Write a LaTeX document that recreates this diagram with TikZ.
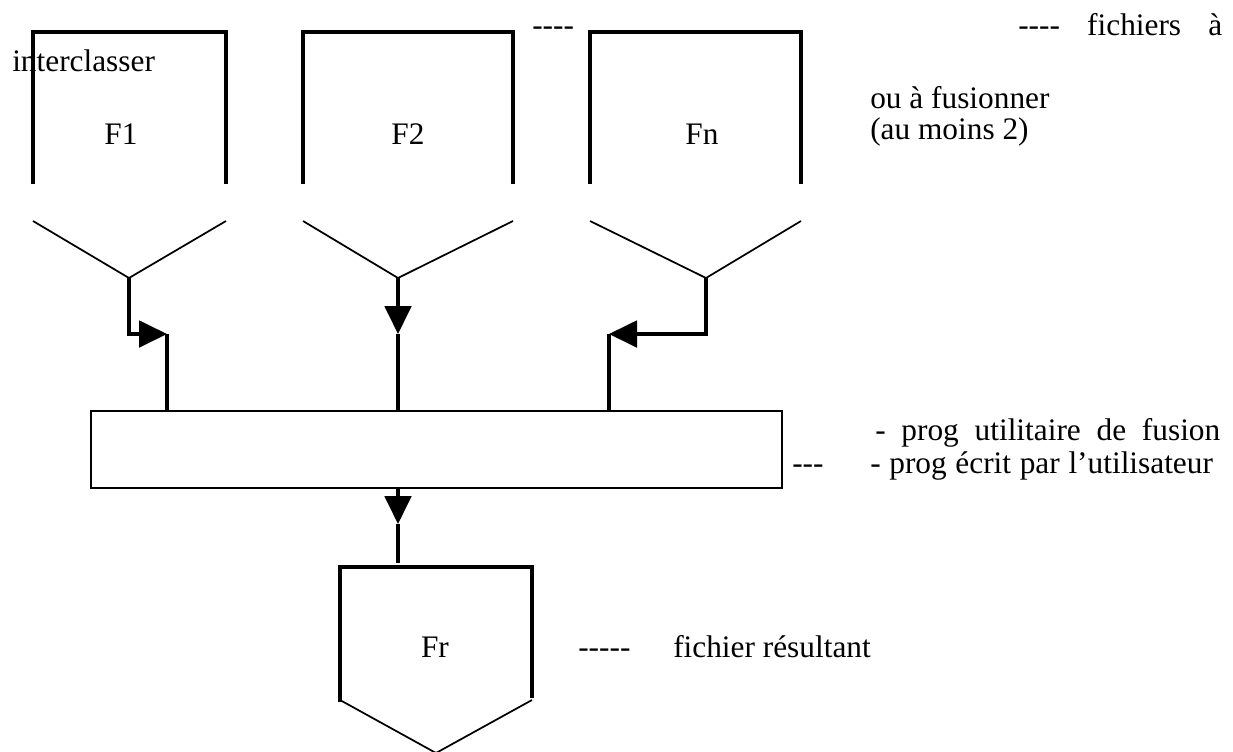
\documentclass[tikz,border=0pt]{standalone}
\usepackage{fontspec}
\setmainfont{Liberation Serif}[Ligatures={TeXOff,CommonOff}]
\usetikzlibrary{arrows.meta}

\begin{document}
\begin{tikzpicture}[x=0.75pt,y=0.75pt,yscale=-1,xscale=1,
  filebox/.style={line width=2.4pt},
  funnel/.style={line width=1.3pt},
  link/.style={line width=2.3pt},
  flowarrow/.style={-{Triangle[length=21pt,width=20pt]}},
  progbox/.style={draw,line width=1.6pt,inner sep=0pt,minimum width=518pt,minimum height=58pt},
  txt/.style={anchor=base west,inner sep=0pt,font=\fontsize{23.5}{28}\selectfont},
  lbl/.style={anchor=base,inner sep=0pt,font=\fontsize{23.5}{28}\selectfont}]
\clip (0,0) rectangle (1233,751);

%Shapes: input files
\draw [filebox] (33,184) |- (226,32) -- (226,184) ;
\draw [filebox] (303,184) |- (513,32) -- (513,184) ;
\draw [filebox] (590,184) |- (801,32) -- (801,184) ;
\draw [funnel] (33,221) -- (129,278) -- (226,221) ;
\draw [funnel] (303,221) -- (398,278) -- (513,221) ;
\draw [funnel] (590,221) -- (706,278) -- (801,221) ;
\node [lbl] (f1) at (121,144) {F1};
\node [lbl] (f2) at (408,144) {F2};
\node [lbl] (fn) at (702,144) {Fn};

%Shape: Rectangle
\node [progbox] (prog) at (436.5,449.5) {};

%Shape: result file
\draw [filebox] (340,702) |- (532,567) -- (532,698) ;
\draw [funnel] (340,700) -- (436,753) -- (532,700) ;
\node [lbl] (fr) at (435,657) {Fr};

%Straight Lines
\coordinate (v1) at (129,278);
\coordinate (t1) at (167,334);
\coordinate (v2) at (398,278);
\coordinate (t2) at (398,334);
\coordinate (v3) at (706,278);
\coordinate (t3) at (609,334);
\coordinate (t4) at (398,524);
\coordinate (r0) at (398,563);
\draw [link,flowarrow] (v1) |- (t1) ;
\draw [link] (t1) -- (t1 |- prog.north) ;
\draw [link,flowarrow] (v2) -- (t2) ;
\draw [link] (t2) -- (t2 |- prog.north) ;
\draw [link,flowarrow] (v3) |- (t3) ;
\draw [link] (t3) -- (t3 |- prog.north) ;
\draw [link,flowarrow] (prog.south -| t4) -- (t4) ;
\draw [link] (t4) -- (r0) ;

% Text Node
\node [txt] (inter) at (12,71) {interclasser};
\node [txt] (dots) at (532,35) {----};
\node [txt] (fich) at (1018,35) {\makebox[153pt][s]{---- fichiers à}};
\node [txt] (fus) at (870,108) {ou à fusionner};
\node [txt] (moins) at (870,139) {(au moins 2)};
\node [txt] (util) at (875,440) {\makebox[258.75pt][s]{- prog utilitaire de fusion}};
\node [txt] (dash) at (792,473) {---};
\node [txt] (ecrit) at (870,473) {\makebox[257pt][s]{- prog écrit par l’utilisateur}};
\node [txt] (dres) at (578,657) {-----};
\node [txt] (res) at (673,657) {fichier résultant};

\end{tikzpicture}
\end{document}
